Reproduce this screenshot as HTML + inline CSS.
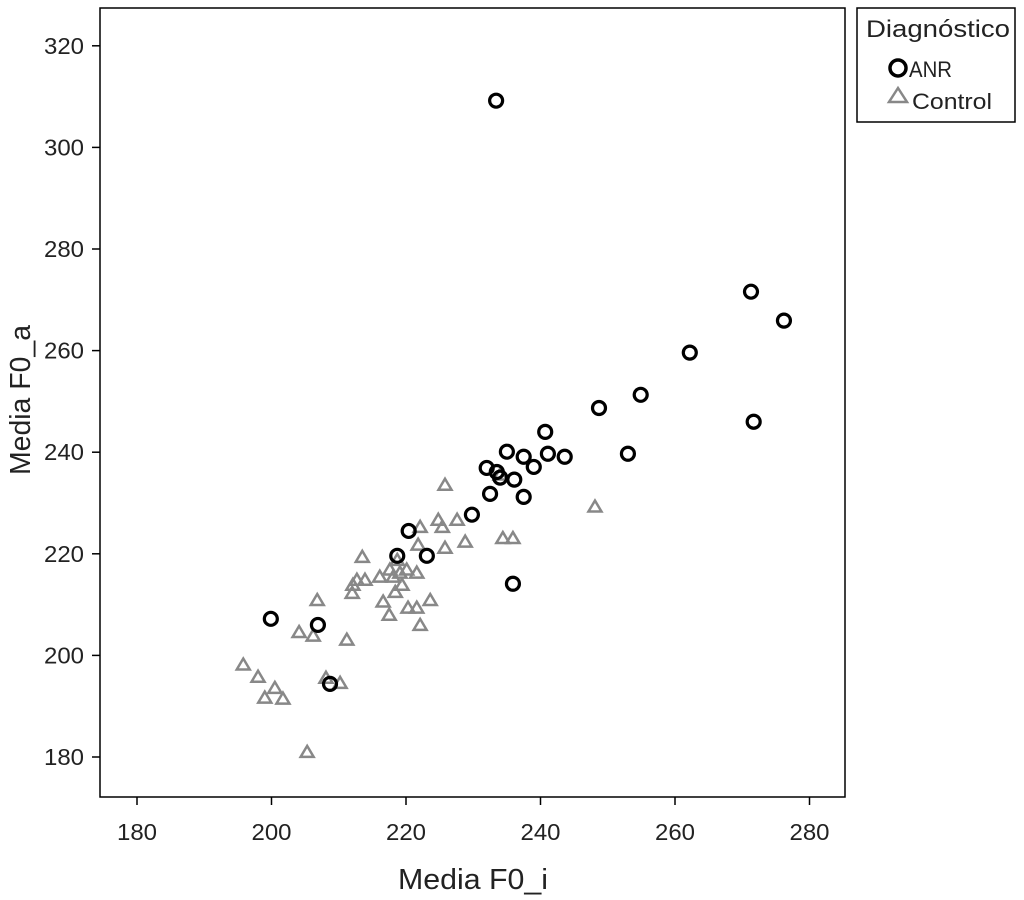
<!DOCTYPE html>
<html><head><meta charset="utf-8"><style>
body{margin:0;background:#fff;}
svg text{font-family:"Liberation Sans",sans-serif;}
</style></head><body>
<svg id="chart" width="1024" height="895" xmlns="http://www.w3.org/2000/svg">
<rect x="100" y="8" width="745" height="789" fill="#fff" stroke="#000" stroke-width="1.5"/>
<g id="axes"></g>
<g id="marks"></g>
<text x="398" y="889" font-size="29" textLength="150" lengthAdjust="spacingAndGlyphs" fill="#222">Media F0_i</text>
<text transform="translate(30,475) rotate(-90)" font-size="29" textLength="150" lengthAdjust="spacingAndGlyphs" fill="#222">Media F0_a</text>
<g>
<rect x="857" y="8" width="158" height="114" fill="#fff" stroke="#000" stroke-width="1.5"/>
<text x="866" y="37" font-size="24" textLength="144" lengthAdjust="spacingAndGlyphs" fill="#222">Diagnóstico</text>
<circle cx="898" cy="68" r="8" fill="none" stroke="#000" stroke-width="3.5"/>
<text x="909" y="77" font-size="22" textLength="43" lengthAdjust="spacingAndGlyphs" fill="#222">ANR</text>
<polygon points="898,88 907,102 889,102" fill="none" stroke="#888" stroke-width="2.5"/>
<text x="912" y="109" font-size="22" textLength="80" lengthAdjust="spacingAndGlyphs" fill="#222">Control</text>
</g>
</svg>
<script>
const xTicks=[180,200,220,240,260,280];
const yTicks=[180,200,220,240,260,280,300,320];
const anrX=[199.9,206.9,208.7,218.7,220.4,223.1,229.8,232.0,232.5,233.5,235.0,234.0,236.1,237.5,237.5,239.0,240.7,241.1,243.6,235.9,248.7,253.0,254.9,262.2,271.3,271.7,276.2,233.4];
const anrY=[207.2,206.0,194.4,219.6,224.5,219.6,227.7,236.9,231.8,236.1,240.1,235.0,234.6,231.2,239.1,237.1,244.0,239.7,239.1,214.1,248.7,239.7,251.3,259.6,271.6,246.0,265.9,309.2];
const ctlX=[225.8,222.1,224.8,225.4,227.6,228.8,221.8,225.8,234.4,235.9,213.5,218.7,216.1,217.6,219.1,220.1,221.6,218.1,212.7,213.9,212.1,219.4,212.0,218.4,216.6,223.6,220.3,221.6,217.5,206.8,222.1,204.1,206.2,211.2,195.8,198.0,200.5,199.0,201.7,208.1,210.2,205.3,234.0,248.1];
const ctlY=[233.6,225.3,226.7,225.3,226.7,222.4,221.8,221.2,223.1,223.1,219.4,218.8,215.5,216.9,216.3,216.9,216.3,215.5,214.9,214.9,213.9,213.9,212.3,212.5,210.6,210.9,209.4,209.4,208.0,210.9,206.0,204.6,203.9,203.1,198.2,195.8,193.6,191.7,191.5,195.6,194.6,181.0,235.6,229.3];
const NS='http://www.w3.org/2000/svg';
const sx=v=>137+(v-180)*6.725;
const sy=v=>757-(v-180)*5.08;
const axes=document.getElementById('axes'),marks=document.getElementById('marks');
function mk(t,a,p){const e=document.createElementNS(NS,t);for(const k in a)e.setAttribute(k,a[k]);p.appendChild(e);return e;}
xTicks.forEach(v=>{
 const l=mk('line',{x1:sx(v),x2:sx(v),y1:797,y2:805,stroke:'#000','stroke-width':1.5},axes);
 
 
 const t=mk('text',{x:sx(v),y:840,'font-size':23,'text-anchor':'middle',textLength:40,lengthAdjust:'spacingAndGlyphs',fill:'#222'},axes);t.textContent=v;
 
 
});
yTicks.forEach(v=>{
 const l=mk('line',{x1:92,x2:100,y1:sy(v),y2:sy(v),stroke:'#000','stroke-width':1.5},axes);
 
 
 const t=mk('text',{x:84,y:sy(v)+8,'font-size':23,'text-anchor':'end',textLength:40,lengthAdjust:'spacingAndGlyphs',fill:'#222'},axes);t.textContent=v;
 
 
});
ctlX.forEach((v,i)=>{
 const x=sx(v),y=sy(ctlY[i]);
 const p=mk('polygon',{points:`${x},${y-6} ${x+6.5},${y+5} ${x-6.5},${y+5}`,fill:'none',stroke:'#888','stroke-width':2.5},marks);
 
 
});
anrX.forEach((v,i)=>{
 const c=mk('circle',{cx:sx(v),cy:sy(anrY[i]),r:6.5,fill:'none',stroke:'#000','stroke-width':3.2},marks);
 
 
});
</script>
</body></html>
